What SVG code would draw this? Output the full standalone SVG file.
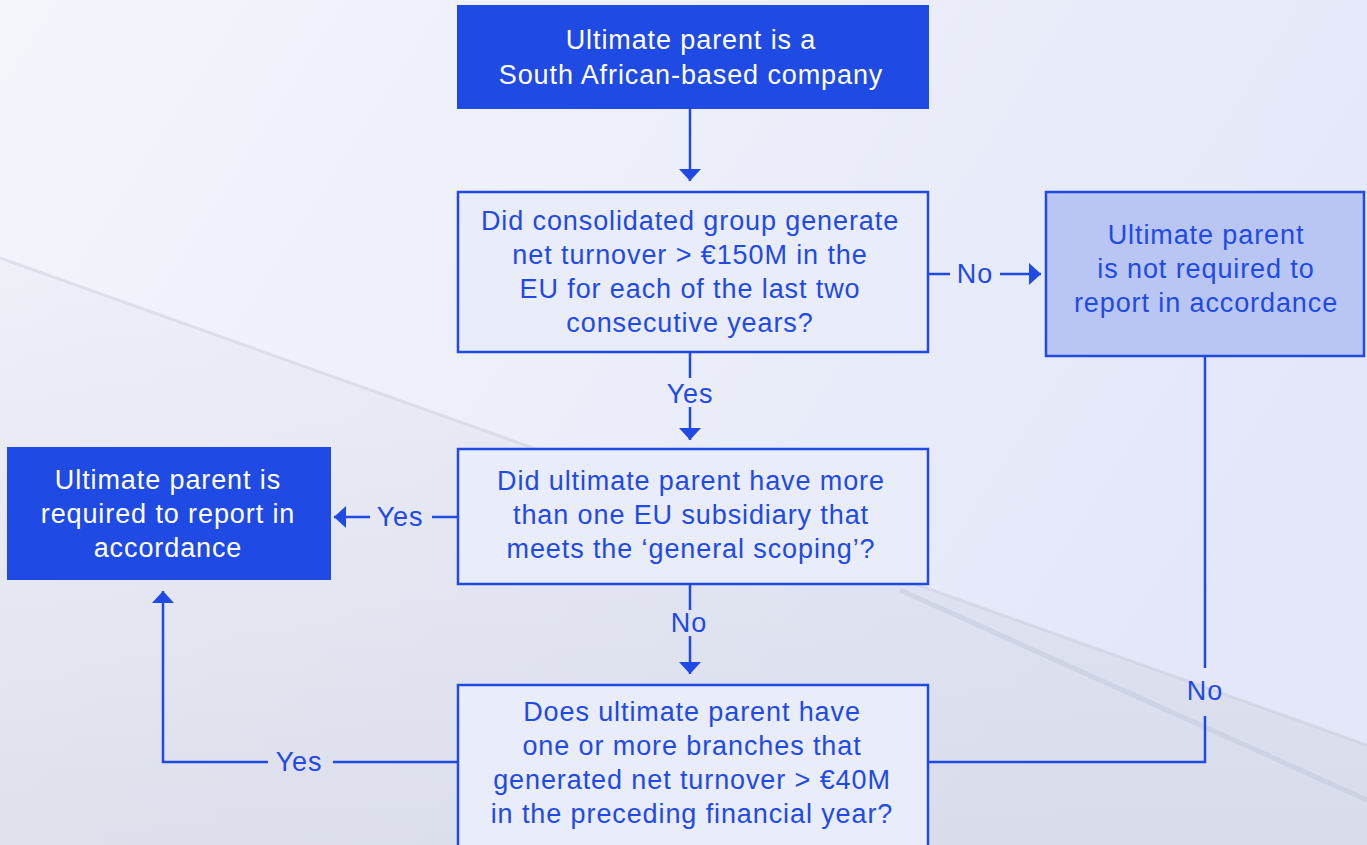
<svg xmlns="http://www.w3.org/2000/svg" width="1367" height="845" viewBox="0 0 1367 845">
<defs>
<linearGradient id="bg" x1="0" y1="0" x2="1" y2="0.4">
<stop offset="0" stop-color="#f4f5fb"/>
<stop offset="0.5" stop-color="#eceefa"/>
<stop offset="1" stop-color="#e3e7f8"/>
</linearGradient>
<linearGradient id="panel" x1="0" y1="0" x2="0" y2="1">
<stop offset="0" stop-color="#d8dae6" stop-opacity="0.15"/>
<stop offset="1" stop-color="#d0d3e0" stop-opacity="0.55"/>
</linearGradient>
<marker id="ah" viewBox="0 0 12 22" refX="12" refY="11" markerWidth="12" markerHeight="22" markerUnits="userSpaceOnUse" orient="auto">
<path d="M0,0 L12,11 L0,22 Z" fill="#1f4ae3"/>
</marker>
<style>
.txt{font-family:"Liberation Sans",Arial,sans-serif;font-size:27px;text-anchor:middle;letter-spacing:0.9px}
.w{fill:#ffffff}
.b{fill:#1f4ae3}
.dark{fill:#1f4ae3}
.lite{fill:#e9ecfb;stroke:#1f4ae3;stroke-width:2.5}
.mid{fill:#b9c6f3;stroke:#1f4ae3;stroke-width:2.5}
.ln{fill:none;stroke:#1f4ae3;stroke-width:2.5}
.lab{font-family:"Liberation Sans",Arial,sans-serif;font-size:27px;text-anchor:middle;fill:#1f4ae3;letter-spacing:0.9px}
</style>
</defs>
<rect width="1367" height="845" fill="url(#bg)"/>
<polygon points="0,258 1367,745 1367,845 0,845" fill="url(#panel)"/>
<line x1="0" y1="258" x2="1367" y2="745" stroke="#c8cad6" stroke-width="3" opacity="0.45"/>
<line x1="900" y1="590" x2="1367" y2="800" stroke="#b9c4d4" stroke-width="5" opacity="0.4"/>

<g id="connectors">
<line class="ln" x1="690" y1="109" x2="690" y2="181" marker-end="url(#ah)"/>
<line class="ln" x1="928" y1="274" x2="950" y2="274"/>
<line class="ln" x1="1000" y1="274" x2="1041" y2="274" marker-end="url(#ah)"/>
<text class="lab" x="975" y="283">No</text>
<line class="ln" x1="690" y1="352" x2="690" y2="378"/>
<line class="ln" x1="690" y1="407" x2="690" y2="440" marker-end="url(#ah)"/>
<text class="lab" x="690" y="403">Yes</text>
<line class="ln" x1="457" y1="517" x2="432" y2="517"/>
<line class="ln" x1="370" y1="517" x2="334" y2="517" marker-end="url(#ah)"/>
<text class="lab" x="400" y="526">Yes</text>
<line class="ln" x1="690" y1="584" x2="690" y2="610"/>
<line class="ln" x1="690" y1="636" x2="690" y2="674" marker-end="url(#ah)"/>
<text class="lab" x="689" y="632">No</text>
<polyline class="ln" points="457,762 333,762"/>
<polyline class="ln" points="268,762 163,762 163,591" marker-end="url(#ah)"/>
<text class="lab" x="299" y="771">Yes</text>
<line class="ln" x1="1205" y1="356" x2="1205" y2="668"/>
<polyline class="ln" points="1205,716 1205,762 928,762"/>
<text class="lab" x="1205" y="700">No</text>
</g>

<g id="n-start">
<rect class="dark" x="457" y="5" width="472" height="104"/>
<text class="txt w" x="691" y="49">Ultimate parent is a</text>
<text class="txt w" x="691" y="84">South African-based company</text>
</g>

<g id="n-turnover">
<rect class="lite" x="458" y="192" width="470" height="160"/>
<text class="txt b" x="690" y="230">Did consolidated group generate</text>
<text class="txt b" x="690" y="264">net turnover &gt; €150M in the</text>
<text class="txt b" x="690" y="298">EU for each of the last two</text>
<text class="txt b" x="690" y="332">consecutive years?</text>
</g>

<g id="n-notreq">
<rect class="mid" x="1046" y="192" width="318" height="164"/>
<text class="txt b" x="1206" y="244">Ultimate parent</text>
<text class="txt b" x="1206" y="278">is not required to</text>
<text class="txt b" x="1206" y="312">report in accordance</text>
</g>

<g id="n-subsidiary">
<rect class="lite" x="458" y="449" width="470" height="135"/>
<text class="txt b" x="691" y="490">Did ultimate parent have more</text>
<text class="txt b" x="691" y="524">than one EU subsidiary that</text>
<text class="txt b" x="691" y="558">meets the ‘general scoping’?</text>
</g>

<g id="n-required">
<rect class="dark" x="7" y="447" width="324" height="133"/>
<text class="txt w" x="168" y="489">Ultimate parent is</text>
<text class="txt w" x="168" y="523">required to report in</text>
<text class="txt w" x="168" y="557">accordance</text>
</g>

<g id="n-branches">
<rect class="lite" x="458" y="685" width="470" height="165"/>
<text class="txt b" x="692" y="721">Does ultimate parent have</text>
<text class="txt b" x="692" y="755">one or more branches that</text>
<text class="txt b" x="692" y="789">generated net turnover &gt; €40M</text>
<text class="txt b" x="692" y="823">in the preceding financial year?</text>
</g>
</svg>
